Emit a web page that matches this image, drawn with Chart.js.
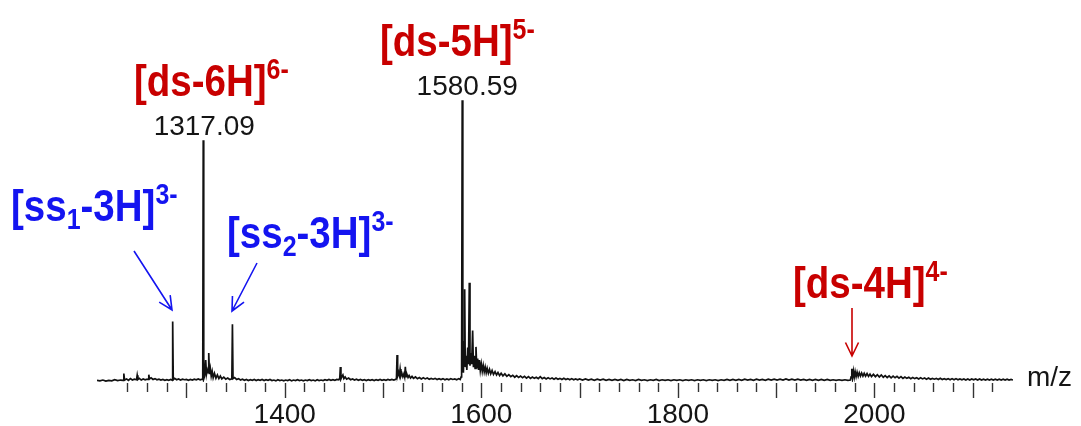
<!DOCTYPE html>
<html><head><meta charset="utf-8">
<script src="https://cdn.jsdelivr.net/npm/chart.js@4"></script>
<style>html,body{margin:0;padding:0;background:#fff}canvas{display:block}</style>
</head><body>
<canvas id="c" width="1081" height="426"></canvas>
<script>
// ---- data (m/z, relative intensity; 1580.59 = 100) ----
const mzValues = [
1209,1212,1215,1218,1221,1224,1227,1230,1233,1235.5,1236.3,1237,1239,1241,1243,1245,1247,1249.2,1249.9,1250.6,
1252,1254,1256,1258,1260,1261,1261.7,1262.4,1264,1266,1268,1270,1272,1274,1276,1278,1280,1282,1284,1285.4,
1286.0,1286.6,1288,1290,1292,1294,1296,1298,1300,1302,1304,1306,1308,1310,1312,1314,1316,1316.6,1317.09,1317.6,
1318.6,1319.6,1320.4,1321.2,1322.0,1322.7,1323.4,1324.3,1325.2,1326.2,1327.2,1328.5,1330,1331.5,1333,1334.5,1336,1338,1340,1342,
1344,1346.2,1346.8,1347.4,1349,1351,1353,1355,1357,1359,1361,1363,1365,1367,1369,1371,1373,1375,1377,1379,
1381,1383,1385,1387,1389,1391,1393,1395,1397,1399,1401,1403,1405,1407,1409,1411,1413,1415,1417,1419,
1421,1423,1425,1427,1429,1431,1433,1435,1437,1439,1441,1443,1445,1447,1449,1451,1453,1455,1456.0,1456.6,
1457.2,1458.2,1459.2,1460.2,1461.5,1463,1465,1467,1469,1471,1473,1475,1477,1479,1481,1483,1485,1487,1489,1491,
1493,1495,1497,1499,1501,1503,1505,1507,1509,1511,1513,1513.7,1514.3,1514.9,1515.8,1516.6,1517.4,1518.2,1519.2,1520.2,
1521.2,1522.0,1522.7,1523.4,1524.4,1525.5,1526.6,1528,1529.5,1531,1533,1535,1537,1539,1541,1543,1545,1547,1549,1551,
1553,1555,1557,1559,1561,1563,1565,1567,1569,1571,1573,1575,1577,1578.5,1579.5,1580.0,1580.59,1581.2,1581.8,1582.5,
1583.1,1583.7,1584.5,1585.3,1586.2,1587.0,1587.8,1588.5,1589.3,1590.2,1591.2,1592.0,1592.8,1593.7,1594.6,1595.4,1596.3,1597.2,1598.1,1599.0,
1600,1601,1602,1603,1604,1605,1606,1607.2,1608.4,1609.6,1611,1612.4,1614,1615.5,1617,1618.6,1620.2,1622,1624,1626,
1628,1630,1632,1634,1636,1638,1640,1642,1644,1646,1648,1650,1652,1654,1656,1658,1660,1662,1664,1666,
1668,1670,1672,1674,1676,1678,1680,1682,1684,1686,1688,1690,1692,1694,1696,1698,1700,1703,1706,1709,
1712,1715,1718,1721,1724,1727,1730,1733,1736,1739,1742,1745,1748,1751,1754,1757,1760,1763,1766,1769,
1772,1775,1778,1781,1784,1787,1790,1793,1796,1799,1802,1805,1808,1811,1814,1817,1820,1823,1826,1829,
1832,1835,1838,1841,1844,1847,1850,1853,1856,1859,1862,1865,1868,1871,1874,1877,1880,1883,1886,1889,
1892,1895,1898,1901,1904,1907,1910,1913,1916,1919,1922,1925,1928,1931,1934,1937,1940,1943,1946,1949,
1952,1955,1958,1961,1964,1967,1970,1973,1975.5,1976.3,1977.0,1977.7,1978.6,1979.5,1980.4,1981.4,1982.4,1983.5,1984.6,1985.8,
1987,1988.3,1989.6,1991,1992.5,1994,1995.5,1997,1999,2001,2003,2005,2007,2009,2011,2013,2015,2017,2019,2021,
2023,2025,2027,2029,2031,2033,2035,2037,2039,2041,2043,2045,2047,2049,2051,2053,2055,2057,2059,2061,
2063,2065,2067,2069,2071,2073,2075,2077,2079,2081,2083,2085,2087,2089,2091,2093,2095,2097,2099,2101,
2103,2105,2107,2109,2111,2113,2115,2117,2119,2121,2123,2125,2127,2129,2131,2133,2135,2137,2139,2141
];
const intensityValues = [
0.3,0.1,0.4,0.0,0.3,0.1,0.5,0.2,0.4,0.3,2.7,0.4,0.8,0.3,0.9,0.4,0.7,0.5,2.1,0.6,
1.0,0.4,0.8,0.5,0.7,0.6,2.3,0.8,1.2,0.6,0.9,0.5,0.7,0.4,0.6,0.3,0.5,0.3,0.6,0.4,
21.2,0.5,1.0,0.5,0.8,0.4,0.7,0.5,0.6,0.3,0.6,0.4,0.7,0.5,0.8,0.5,0.7,0.6,85.8,0.8,
2.0,7.5,2.5,4.0,3.0,10.0,2.5,4.5,1.8,3.5,1.2,2.8,1.0,2.2,0.9,1.8,0.8,1.4,0.7,1.1,
0.6,0.8,20.3,0.9,1.3,0.6,0.9,0.4,0.7,0.3,0.6,0.2,0.5,0.3,0.6,0.2,0.5,0.3,0.6,0.2,
0.5,0.3,0.6,0.2,0.4,0.1,0.5,0.2,0.4,0.1,0.4,0.2,0.5,0.1,0.4,0.2,0.5,0.2,0.4,0.1,
0.4,0.2,0.5,0.2,0.4,0.1,0.5,0.2,0.4,0.2,0.5,0.3,0.6,0.3,0.5,0.3,0.6,0.5,1.0,5.0,
0.8,1.6,2.2,0.9,1.5,0.7,1.1,0.5,0.8,0.4,0.7,0.3,0.6,0.3,0.5,0.2,0.5,0.3,0.5,0.2,
0.5,0.3,0.6,0.3,0.5,0.3,0.6,0.4,0.6,0.4,0.7,1.0,9.3,2.0,3.2,2.0,4.3,1.8,2.8,1.6,
2.6,1.5,5.1,1.6,2.4,1.3,2.0,1.1,1.7,1.0,1.5,0.9,1.3,0.8,1.2,0.8,1.1,0.7,1.0,0.7,
1.0,0.6,0.9,0.6,0.9,0.5,0.8,0.5,0.9,0.6,0.8,0.5,0.9,0.6,1.5,4.0,100,6.0,3.0,14.0,
32.7,5.0,9.0,4.0,12.0,6.0,35.0,5.5,10.0,6.0,18.0,5.0,9.0,4.5,12.2,4.5,8.0,4.0,7.5,3.8,
6.2,3.5,5.6,3.3,5.0,3.0,4.6,2.8,4.2,2.6,3.8,2.4,3.4,2.2,3.1,2.0,2.8,1.9,2.6,1.7,
2.3,1.6,2.1,1.4,2.0,1.3,1.8,1.2,1.7,1.1,1.6,1.0,1.5,1.0,1.4,0.9,1.6,0.9,1.3,0.8,
1.2,0.8,1.1,0.7,1.1,0.7,1.0,0.6,1.0,0.6,0.9,0.5,0.9,0.5,0.8,0.5,0.8,0.4,0.8,0.4,
0.7,0.3,0.7,0.4,0.7,0.3,0.6,0.3,0.6,0.3,0.6,0.2,0.6,0.3,0.5,0.2,0.6,0.3,0.5,0.2,
0.5,0.3,0.6,0.2,0.5,0.3,0.5,0.2,0.5,0.3,0.5,0.2,0.5,0.3,0.5,0.2,0.5,0.3,0.5,0.2,
0.5,0.3,0.5,0.2,0.5,0.3,0.6,0.3,0.6,0.3,0.6,0.3,0.7,0.4,0.6,0.3,0.7,0.4,0.6,0.3,
0.7,0.4,0.7,0.4,0.7,0.4,0.8,0.4,0.7,0.4,0.7,0.4,0.6,0.3,0.6,0.3,0.6,0.3,0.6,0.3,
0.6,0.3,0.5,0.3,0.5,0.3,0.5,0.3,0.4,1.5,4.4,1.2,3.6,1.4,3.4,1.6,3.2,1.7,3.0,1.8,
2.9,1.8,2.8,1.8,2.7,1.7,2.5,1.6,2.4,1.6,2.3,1.5,2.2,1.4,2.0,1.3,1.9,1.2,1.8,1.2,
1.7,1.1,1.6,1.0,1.5,1.0,1.4,0.9,1.3,0.9,1.2,0.8,1.2,0.8,1.1,0.7,1.1,0.7,1.0,0.7,
1.0,0.6,1.0,0.6,0.9,0.6,0.9,0.5,0.9,0.5,0.9,0.5,0.8,0.5,0.8,0.4,0.8,0.4,0.8,0.5,
0.8,0.4,0.8,0.4,0.7,0.4,0.7,0.4,0.7,0.4,0.7,0.4,0.7,0.4,0.7,0.4,0.7,0.4,0.6,0.4
];
const tickLabelValues = [1400, 1600, 1800, 2000];
const peakLabels = [ {text:'1317.09', mz:1317.09}, {text:'1580.59', mz:1580.59} ];
const axisTitle = 'm/z';

// ---- styling / layout ----
const RED = '#c80000', BLUE = '#1414f0', INK = '#151515';
const FONT = '"Liberation Sans", Arial, Helvetica, sans-serif';

const annotations = [
  {color:RED,  x:134, y:96,  parts:[['[ds-6H]','m'],['6-','sup']]},
  {color:RED,  x:380, y:56,  parts:[['[ds-5H]','m'],['5-','sup']]},
  {color:RED,  x:793, y:298, parts:[['[ds-4H]','m'],['4-','sup']]},
  {color:BLUE, x:11,  y:221, parts:[['[ss','m'],['1','sub'],['-3H]','m'],['3-','sup']]},
  {color:BLUE, x:227, y:248, parts:[['[ss','m'],['2','sub'],['-3H]','m'],['3-','sup']]}
];
const arrows = [
  {color:BLUE, from:[134,251], to:[172,310]},
  {color:BLUE, from:[257,263], to:[232,311]},
  {color:RED,  from:[852,308], to:[852,356]}
];
const LABEL_STRETCH = 1.15;
const partStyle = {
  m:   {size:38.5, dy:0},
  sub: {size:25, dy:8},
  sup: {size:25, dy:-17}
};

const points = mzValues.map((m, i) => ({x: m, y: intensityValues[i]}));

const decorPlugin = {
  id: 'decor',
  afterDraw(chart) {
    const ctx = chart.ctx, xs = chart.scales.x, ys = chart.scales.y, ca = chart.chartArea;
    ctx.save();
    // tick marks
    ctx.strokeStyle = '#333'; ctx.lineWidth = 1.4;
    xs.ticks.forEach(t => {
      const px = Math.round(xs.getPixelForValue(t.value)) + 0.5;
      const len = (t.value % 100 === 0) ? 15 : 9;
      ctx.beginPath(); ctx.moveTo(px, ca.bottom + 1); ctx.lineTo(px, ca.bottom + 1 + len); ctx.stroke();
    });
    // tick labels
    ctx.fillStyle = INK; ctx.font = '28px ' + FONT; ctx.textBaseline = 'alphabetic'; ctx.textAlign = 'center';
    tickLabelValues.forEach(v => ctx.fillText(String(v), xs.getPixelForValue(v), 423));
    // axis title
    ctx.textAlign = 'left';
    ctx.fillText(axisTitle, 1027, 386);
    // peak labels
    peakLabels.forEach(p => {
      const px = xs.getPixelForValue(p.mz);
      const idx = mzValues.indexOf(p.mz);
      const py = ys.getPixelForValue(intensityValues[idx]);
      ctx.textAlign = 'center';
      ctx.fillText(p.text, px + (p.mz > 1500 ? 5 : 1), py - 5);
    });
    // rich labels
    ctx.textAlign = 'left';
    annotations.forEach(a => {
      let x = a.x;
      ctx.fillStyle = a.color;
      a.parts.forEach(([txt, kind]) => {
        const st = partStyle[kind];
        ctx.font = 'bold ' + st.size + 'px ' + FONT;
        ctx.save();
        ctx.translate(x, a.y + st.dy);
        ctx.scale(1, LABEL_STRETCH);
        ctx.fillText(txt, 0, 0);
        ctx.restore();
        x += ctx.measureText(txt).width;
      });
    });
    // arrows
    arrows.forEach(ar => {
      const [x1,y1] = ar.from, [x2,y2] = ar.to;
      const ang = Math.atan2(y2-y1, x2-x1), hl = 15, ha = 0.45;
      ctx.strokeStyle = ar.color; ctx.lineWidth = 1.6;
      ctx.beginPath(); ctx.moveTo(x1,y1); ctx.lineTo(x2,y2);
      ctx.moveTo(x2 - hl*Math.cos(ang-ha), y2 - hl*Math.sin(ang-ha));
      ctx.lineTo(x2,y2);
      ctx.lineTo(x2 - hl*Math.cos(ang+ha), y2 - hl*Math.sin(ang+ha));
      ctx.stroke();
    });
    ctx.restore();
  }
};

new Chart(document.getElementById('c'), {
  type: 'line',
  data: { datasets: [{ data: points, borderColor: '#111', borderWidth: 1.7, pointRadius: 0, tension: 0, fill: false }] },
  options: {
    responsive: false, animation: false, devicePixelRatio: 1,
    layout: { padding: { left: 97, right: 68, top: 16, bottom: 0 } },
    plugins: { legend: { display: false }, tooltip: { enabled: false } },
    scales: {
      x: {
        type: 'linear', min: 1209, max: 2141, position: 'bottom',
        border: { display: false }, grid: { display: false },
        afterBuildTicks: s => { s.ticks = s.ticks.filter(t => t.value % 20 === 0); },
        afterFit: s => { s.height = 44; },
        ticks: { display: false, stepSize: 20, autoSkip: false, maxRotation: 0 }
      },
      y: { display: false, min: -0.3, max: 130 }
    }
  },
  plugins: [decorPlugin]
});
</script>
</body></html>
